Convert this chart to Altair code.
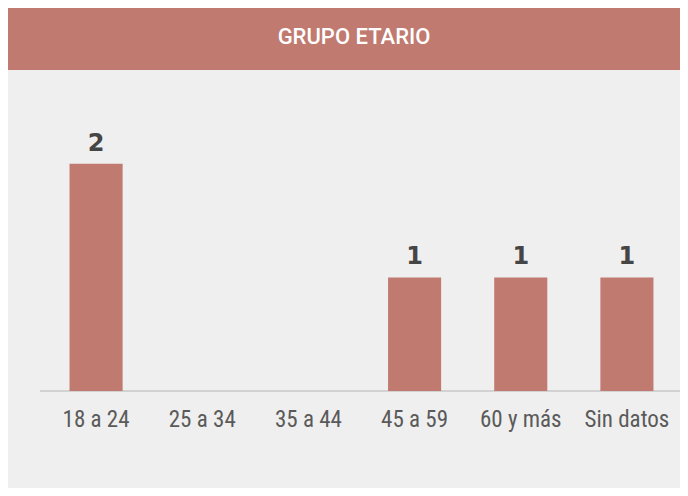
import altair as alt
import pandas as pd

categories = ["18 a 24", "25 a 34", "35 a 44", "45 a 59", "60 y más", "Sin datos"]
counts = [2, 0, 0, 1, 1, 1]
title_text = ["GRUPO ETARIO"]

BAR = "#C07A70"
BG = "#EFEFEF"
NARROW = "'Liberation Sans Narrow', 'Roboto Condensed', 'DejaVu Sans Condensed', sans-serif"

df = pd.DataFrame({"grupo": categories, "n": counts})
df["label"] = [str(v) for v in counts]
meta = pd.DataFrame({"t": title_text})

W, H = 637, 284
PAD_L, PAD_T = 35, 99
CANVAS_W, CANVAS_H = 672, 480

yscale = alt.Scale(domain=[0, 2.5], nice=False, zero=True)

xenc = alt.X(
    "grupo:N",
    sort=categories,
    scale=alt.Scale(paddingInner=0.5, paddingOuter=0.25),
    axis=alt.Axis(
        title=None, labelAngle=0, ticks=False, domain=False, grid=False,
        labelFontSize=23, labelFont=NARROW, labelColor="#5A5A5A", labelPadding=17,
    ),
)
yenc = alt.Y("n:Q", scale=yscale, axis=None)

banner = alt.Chart(meta).mark_rect(color=BAR).encode(
    x=alt.value(-PAD_L - 2),
    x2=alt.value(CANVAS_W - PAD_L + 10),
    y=alt.value(-PAD_T - 1),
    y2=alt.value(62 - PAD_T),
)
title = alt.Chart(meta).mark_text(
    color="white", fontSize=22, font="Roboto", fontWeight=500, baseline="middle", align="center"
).encode(x=alt.value(311), y=alt.value(29 - PAD_T), text="t:N")

rule = alt.Chart(meta).mark_rule(color="#D2D2D2", strokeWidth=2).encode(
    x=alt.value(-3), x2=alt.value(642), y=alt.value(H)
)

bars = alt.Chart(df).mark_bar(color=BAR).encode(x=xenc, y=yenc)
labels = alt.Chart(df).transform_filter("datum.n > 0").mark_text(
    dy=-13, baseline="alphabetic", font="DejaVu Sans", fontSize=24,
    fontWeight="bold", color="#454545",
).encode(
    x=alt.X("grupo:N", sort=categories),
    y=alt.Y("n:Q", scale=yscale),
    text="label:N",
)

chart = alt.layer(banner, title, rule, bars, labels).properties(
    width=W,
    height=H,
    padding={"left": PAD_L, "top": PAD_T, "right": CANVAS_W - PAD_L - W, "bottom": CANVAS_H - PAD_T - H},
    autosize=alt.AutoSizeParams(type="none"),
    background=BG,
).configure_view(stroke=None)

chart.save("out.html", embed_options={"renderer": "svg", "actions": False})
